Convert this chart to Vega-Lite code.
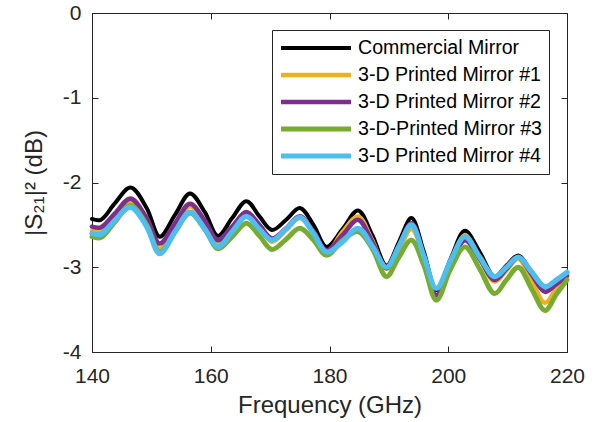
{
  "$schema": "https://vega.github.io/schema/vega-lite/v6.json",
  "width": 475,
  "height": 339,
  "autosize": {"type": "none"},
  "padding": {"left": 92, "top": 13, "right": 31, "bottom": 70},
  "background": "white",
  "config": {
    "font": "Liberation Sans",
    "view": {"stroke": "#262626", "strokeWidth": 1},
    "axis": {
      "grid": false,
      "domainColor": "#262626",
      "tickColor": "#262626",
      "labelColor": "#262626",
      "titleColor": "#262626",
      "labelFont": "Liberation Sans",
      "titleFont": "Liberation Sans",
      "labelFontSize": 21,
      "titleFontSize": 24,
      "titleFontWeight": "normal",
      "tickSize": -6,
      "labelFlush": false
    },
    "legend": {
      "orient": "none",
      "legendX": 180,
      "legendY": 17,
      "strokeColor": "#262626",
      "fillColor": "white",
      "padding": 6,
      "symbolType": "stroke",
      "symbolSize": 4900,
      "symbolStrokeWidth": 4.5,
      "labelFont": "Liberation Sans",
      "labelFontSize": 19.6,
      "labelColor": "black",
      "labelOffset": 4,
      "labelLimit": 400,
      "clipHeight": 24,
      "rowPadding": 3,
      "title": null
    }
  },
  "data": {
    "values": [
      {"f": 140, "c": -2.43, "m1": -2.57, "m2": -2.52, "m3": -2.64, "m4": -2.60},
      {"f": 141.5, "c": -2.44, "m1": -2.58, "m2": -2.53, "m3": -2.65, "m4": -2.61},
      {"f": 143.8, "c": -2.25, "m1": -2.40, "m2": -2.37, "m3": -2.47, "m4": -2.45},
      {"f": 146.5, "c": -2.06, "m1": -2.22, "m2": -2.19, "m3": -2.27, "m4": -2.29},
      {"f": 149.2, "c": -2.30, "m1": -2.46, "m2": -2.42, "m3": -2.50, "m4": -2.52},
      {"f": 151.4, "c": -2.64, "m1": -2.78, "m2": -2.72, "m3": -2.82, "m4": -2.84},
      {"f": 154, "c": -2.38, "m1": -2.52, "m2": -2.48, "m3": -2.58, "m4": -2.58},
      {"f": 156.5, "c": -2.13, "m1": -2.28, "m2": -2.25, "m3": -2.36, "m4": -2.35},
      {"f": 159, "c": -2.35, "m1": -2.48, "m2": -2.45, "m3": -2.55, "m4": -2.55},
      {"f": 161.2, "c": -2.63, "m1": -2.72, "m2": -2.68, "m3": -2.78, "m4": -2.76},
      {"f": 163.6, "c": -2.42, "m1": -2.55, "m2": -2.52, "m3": -2.64, "m4": -2.58},
      {"f": 166, "c": -2.22, "m1": -2.38, "m2": -2.35, "m3": -2.48, "m4": -2.40},
      {"f": 168.2, "c": -2.40, "m1": -2.52, "m2": -2.50, "m3": -2.63, "m4": -2.55},
      {"f": 170.3, "c": -2.56, "m1": -2.70, "m2": -2.66, "m3": -2.79, "m4": -2.68},
      {"f": 172.7, "c": -2.44, "m1": -2.56, "m2": -2.54, "m3": -2.67, "m4": -2.55},
      {"f": 175, "c": -2.30, "m1": -2.42, "m2": -2.40, "m3": -2.54, "m4": -2.41},
      {"f": 177.3, "c": -2.50, "m1": -2.58, "m2": -2.58, "m3": -2.68, "m4": -2.60},
      {"f": 179.5, "c": -2.76, "m1": -2.82, "m2": -2.80, "m3": -2.86, "m4": -2.82},
      {"f": 182.2, "c": -2.55, "m1": -2.58, "m2": -2.62, "m3": -2.68, "m4": -2.70},
      {"f": 184.8, "c": -2.33, "m1": -2.40, "m2": -2.44, "m3": -2.58, "m4": -2.54},
      {"f": 187.2, "c": -2.62, "m1": -2.68, "m2": -2.70, "m3": -2.78, "m4": -2.75},
      {"f": 189.6, "c": -2.98, "m1": -3.02, "m2": -3.01, "m3": -3.11, "m4": -3.00},
      {"f": 191.7, "c": -2.70, "m1": -2.80, "m2": -2.75, "m3": -2.88, "m4": -2.75},
      {"f": 193.8, "c": -2.42, "m1": -2.55, "m2": -2.48, "m3": -2.68, "m4": -2.50},
      {"f": 195.9, "c": -2.82, "m1": -2.88, "m2": -2.88, "m3": -2.98, "m4": -2.87},
      {"f": 198, "c": -3.27, "m1": -3.35, "m2": -3.33, "m3": -3.39, "m4": -3.25},
      {"f": 200.4, "c": -2.90, "m1": -2.98, "m2": -2.98, "m3": -3.02, "m4": -2.92},
      {"f": 202.8, "c": -2.57, "m1": -2.62, "m2": -2.68, "m3": -2.76, "m4": -2.64},
      {"f": 205.3, "c": -2.82, "m1": -2.90, "m2": -2.90, "m3": -3.02, "m4": -2.88},
      {"f": 207.8, "c": -3.11, "m1": -3.17, "m2": -3.15, "m3": -3.31, "m4": -3.11},
      {"f": 209.8, "c": -2.98, "m1": -3.04, "m2": -3.02, "m3": -3.15, "m4": -3.00},
      {"f": 211.8, "c": -2.86, "m1": -2.90, "m2": -2.88, "m3": -3.00, "m4": -2.88},
      {"f": 214, "c": -3.05, "m1": -3.15, "m2": -3.08, "m3": -3.25, "m4": -3.05},
      {"f": 216.3, "c": -3.23, "m1": -3.42, "m2": -3.29, "m3": -3.51, "m4": -3.23},
      {"f": 218.2, "c": -3.15, "m1": -3.25, "m2": -3.20, "m3": -3.32, "m4": -3.15},
      {"f": 220, "c": -3.06, "m1": -3.12, "m2": -3.10, "m3": -3.15, "m4": -3.06}
    ]
  },
  "transform": [
    {"fold": ["c", "m1", "m2", "m3", "m4"], "as": ["s", "v"]}
  ],
  "resolve": {"axis": {"x": "independent", "y": "independent"}},
  "layer": [
    {
      "mark": {"type": "line", "interpolate": "catmull-rom", "strokeJoin": "round", "strokeCap": "round"},
      "encoding": {
        "x": {
          "field": "f", "type": "quantitative",
          "scale": {"domain": [140, 220], "nice": false, "zero": false},
          "axis": {"orient": "bottom", "values": [140, 160, 180, 200, 220], "title": "Frequency (GHz)", "labelPadding": 19, "titlePadding": 7}
        },
        "y": {
          "field": "v", "type": "quantitative",
          "scale": {"domain": [-4, 0], "nice": false, "zero": false},
          "axis": {"orient": "left", "values": [-4, -3, -2, -1, 0], "labelExpr": "toString(datum.value)", "title": "|S₂₁|² (dB)", "labelPadding": 17, "titlePadding": 16}
        },
        "color": {
          "field": "s", "type": "nominal",
          "scale": {
            "domain": ["c", "m1", "m2", "m3", "m4"],
            "range": ["#000000", "#EDB120", "#7E2F8E", "#77AC30", "#4DBEEE"]
          },
          "legend": {
            "labelExpr": "datum.value == 'c' ? 'Commercial Mirror' : datum.value == 'm1' ? '3-D Printed Mirror #1' : datum.value == 'm2' ? '3-D Printed Mirror #2' : datum.value == 'm3' ? '3-D-Printed Mirror #3' : '3-D Printed Mirror #4'"
          }
        },
        "strokeWidth": {
          "field": "s", "type": "nominal",
          "scale": {"domain": ["c", "m1", "m2", "m3", "m4"], "range": [4, 5.2, 5.2, 5.2, 5.2]},
          "legend": null
        }
      }
    },
    {
      "mark": {"type": "point", "opacity": 0},
      "encoding": {
        "x": {
          "field": "f", "type": "quantitative",
          "scale": {"domain": [140, 220], "nice": false, "zero": false},
          "axis": {"orient": "top", "values": [140, 160, 180, 200, 220], "labels": false, "domain": false, "title": null}
        },
        "y": {
          "field": "v", "type": "quantitative",
          "scale": {"domain": [-4, 0], "nice": false, "zero": false},
          "axis": {"orient": "right", "values": [-4, -3, -2, -1, 0], "labels": false, "domain": false, "title": null}
        }
      }
    }
  ]
}
